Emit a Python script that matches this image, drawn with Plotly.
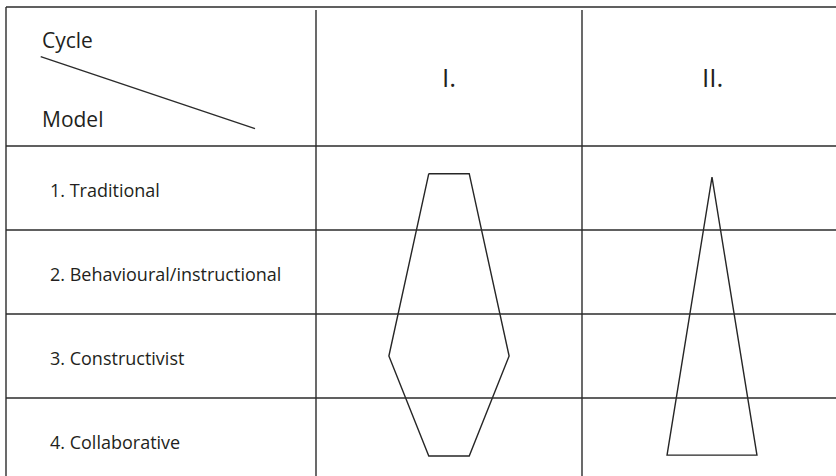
import plotly.graph_objects as go

# ---------------- data ----------------
models = ["1. Traditional", "2. Behavioural/instructional", "3. Constructivist", "4. Collaborative"]
cycles = ["I.", "II."]
corner_top = "Cycle"
corner_bottom = "Model"

# Profile of each cycle: vertical level (row units, 0 = top of model 1)
# and half-width (fraction of a cycle column width)
cycle1_levels = [0.33, 2.50, 3.69]
cycle1_halfwidth = [0.076, 0.226, 0.076]
cycle2_levels = [0.37, 3.68]
cycle2_halfwidth = [0.0, 0.169]

# ---------------- layout constants (window pixels) ----------------
W, H = 836, 476
ROW_TOP_PX = 146.0
ROW_H = 84.0
COL_X = [6, 316, 582]          # vertical rule positions (window px)
COL_W = 266.0
COL2_CENTER = 712.0
TOP_PX = 7.0
LINE = dict(color="#2b2b2b", width=1.4)
SHAPE_LINE = dict(color="#262626", width=1.4)
TXT = "#231f20"
FONT = "Open Sans"

fig = go.Figure()

# Cycle I polygon (hexagon-like), built from its profile
hx = [-cycle1_halfwidth[0], cycle1_halfwidth[0], cycle1_halfwidth[1], cycle1_halfwidth[2],
      -cycle1_halfwidth[2], -cycle1_halfwidth[1], -cycle1_halfwidth[0]]
hy = [cycle1_levels[0], cycle1_levels[0], cycle1_levels[1], cycle1_levels[2],
      cycle1_levels[2], cycle1_levels[1], cycle1_levels[0]]
fig.add_trace(go.Scatter(x=hx, y=hy, mode="lines", line=SHAPE_LINE,
                         xaxis="x2", yaxis="y2", hoverinfo="skip", showlegend=False))

# Cycle II polygon (triangle)
tx = [cycle2_halfwidth[0], cycle2_halfwidth[1], -cycle2_halfwidth[1], -cycle2_halfwidth[0]]
ty = [cycle2_levels[0], cycle2_levels[1], cycle2_levels[1], cycle2_levels[0]]
fig.add_trace(go.Scatter(x=tx, y=ty, mode="lines", line=SHAPE_LINE,
                         xaxis="x3", yaxis="y2", hoverinfo="skip", showlegend=False))

shapes = []
shapes.append(dict(type="line", xref="x", yref="y", x0=COL_X[0], x1=W, y0=TOP_PX, y1=TOP_PX, line=LINE))
for r in range(len(models)):
    shapes.append(dict(type="line", xref="x", yref="y2", x0=COL_X[0], x1=W, y0=r, y1=r, line=LINE))
shapes.append(dict(type="line", xref="x", yref="y", x0=COL_X[0], x1=COL_X[0], y0=TOP_PX, y1=H, line=LINE))
for cx in COL_X[1:]:
    shapes.append(dict(type="line", xref="x", yref="y", x0=cx, x1=cx, y0=10, y1=H, line=LINE))
shapes.append(dict(type="line", xref="x", yref="y", x0=40.7, y0=56.7, x1=255, y1=128.7, line=LINE))

annotations = []
annotations.append(dict(text=corner_top, x=40, y=40, xref="x", yref="y", xanchor="left",
                        yanchor="middle", showarrow=False, font=dict(family=FONT, size=21, color=TXT)))
annotations.append(dict(text=corner_bottom, x=40, y=119, xref="x", yref="y", xanchor="left",
                        yanchor="middle", showarrow=False, font=dict(family=FONT, size=21, color=TXT)))
for i, m in enumerate(models):
    annotations.append(dict(text=m, x=48, y=i + 0.52, xref="x", yref="y2", xanchor="left",
                            yanchor="middle", showarrow=False, font=dict(family=FONT, size=18, color=TXT)))
header_mid = ((TOP_PX + ROW_TOP_PX) / 2 - ROW_TOP_PX) / ROW_H
for c, xa in zip(cycles, ["x2", "x3"]):
    annotations.append(dict(text=c, x=0, y=header_mid, xref=xa, yref="y2", xanchor="center",
                            yanchor="middle", showarrow=False,
                            font=dict(family=FONT, size=26, color=TXT, weight=500)))

hidden = dict(visible=False, showgrid=False, zeroline=False, fixedrange=True)
fig.update_layout(
    width=W, height=H, margin=dict(l=0, r=0, t=0, b=0),
    paper_bgcolor="white", plot_bgcolor="white",
    shapes=shapes, annotations=annotations,
    xaxis=dict(range=[0, W], domain=[0, 1], anchor="y", **hidden),
    yaxis=dict(range=[H, 0], domain=[0, 1], anchor="x", **hidden),
    xaxis2=dict(range=[-0.5, 0.5], domain=[COL_X[1] / W, COL_X[2] / W], anchor="y2", **hidden),
    xaxis3=dict(range=[-(COL2_CENTER - COL_X[2]) / COL_W, (W - COL2_CENTER) / COL_W],
                domain=[COL_X[2] / W, 1], anchor="y2", **hidden),
    yaxis2=dict(range=[(H - ROW_TOP_PX) / ROW_H, -ROW_TOP_PX / ROW_H], domain=[0, 1],
                overlaying="y", anchor="x2", **hidden),
)

fig.write_html("out.html", config={"displayModeBar": False, "staticPlot": True},
               post_script="document.body.style.margin='0';document.body.style.overflow='hidden';")
